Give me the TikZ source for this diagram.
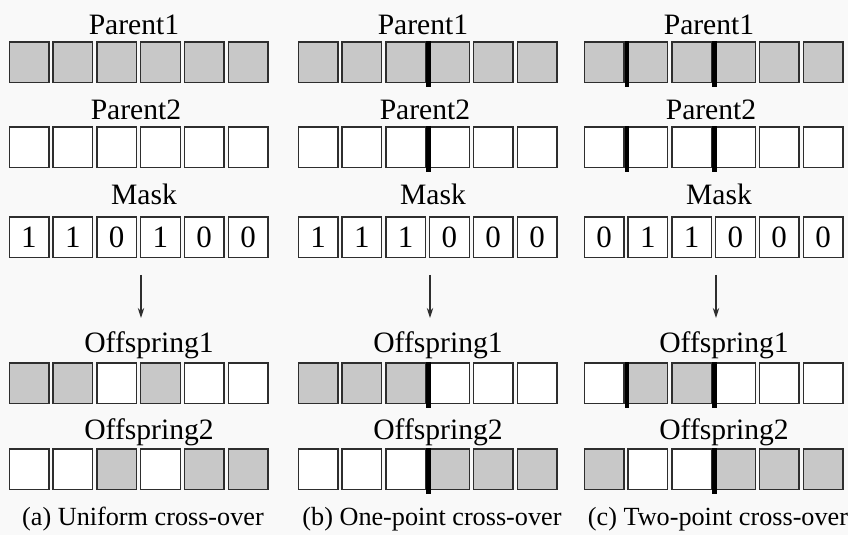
\documentclass[tikz,border=0pt]{standalone}
\usepackage{fontspec}
\setmainfont{Liberation Serif}
\usepackage{xcolor}
\definecolor{PaperBg}{HTML}{F9F9F9}
\definecolor{GeneGray}{HTML}{C8C8C8}
\definecolor{EdgeDark}{HTML}{2E2E2E}
\usepackage{tikz}
\usetikzlibrary{arrows.meta}

\tikzset{
  gene/.style={draw=EdgeDark, line width=0.7pt, minimum width=19.8pt, minimum height=20.3pt, inner sep=0pt, font=\fontsize{15.5}{17}\selectfont},
  rowlabel/.style={anchor=base, inner sep=0pt, font=\fontsize{14.8}{16}\selectfont},
  caplabel/.style={anchor=base, inner sep=0pt, font=\fontsize{13.1}{15}\selectfont},
  cut/.style={line width=2.4pt, black},
  flow/.style={line width=0.6pt, EdgeDark, -{Stealth[length=5pt,width=3.2pt]}}
}

\begin{document}
\begin{tikzpicture}[x=0.5pt,y=-0.5pt]
  \fill[PaperBg] (0,0) rectangle (848,535);
  \useasboundingbox (0,0) rectangle (848,535);
  \foreach \px/\tag/\capt in {8/a/Uniform cross-over,297/b/One-point cross-over,583/c/Two-point cross-over}{
    \node[rowlabel] (\tag-lp1) at (\px+126,35) {Parent1};
    \node[rowlabel] (\tag-lp2) at (\px+128,120) {Parent2};
    \node[rowlabel] (\tag-lm) at (\px+136,205) {Mask};
    \node[rowlabel] (\tag-lo1) at (\px+141,353) {Offspring1};
    \node[rowlabel] (\tag-lo2) at (\px+141,440) {Offspring2};
    \node[caplabel] (\tag-cap) at (\px+135,525) {(\tag) \capt};
    \foreach \i in {1,...,6}{
      \pgfmathsetmacro\cx{\px+21+43.8*(\i-1)}
      \node[gene, fill=GeneGray] (\tag-p1-\i) at (\cx,62.5) {};
      \node[gene, fill=white] (\tag-p2-\i) at (\cx,147.5) {};
    }
    \coordinate (\tag-from) at (\px+133,275);
    \coordinate (\tag-to) at (\px+133,318);
    \draw[flow] (\tag-from) -- (\tag-to);
  }
  \foreach \px/\tag/\bits in {8/a/{1,1,0,1,0,0},297/b/{1,1,1,0,0,0},583/c/{0,1,1,0,0,0}}{
    \foreach \b [count=\i] in \bits{
      \pgfmathsetmacro\cx{\px+21+43.8*(\i-1)}
      \ifnum\b=1 \def\fa{GeneGray}\def\fb{white}\else \def\fa{white}\def\fb{GeneGray}\fi
      \node[gene, fill=white] (\tag-m-\i) at (\cx,237.5) {\b};
      \node[gene, fill=\fa] (\tag-o1-\i) at (\cx,383.5) {};
      \node[gene, fill=\fb] (\tag-o2-\i) at (\cx,469.5) {};
    }
  }
  \foreach \n in {b-p1-3,b-p2-3,b-o1-3,b-o2-3,c-p1-1,c-p1-3,c-p2-1,c-p2-3,c-o1-1,c-o1-3,c-o2-3}{
    \draw[cut] ([xshift=1.2pt]\n.north east) -- ([xshift=1.2pt,yshift=-1.8pt]\n.south east);
  }
\end{tikzpicture}
\end{document}
